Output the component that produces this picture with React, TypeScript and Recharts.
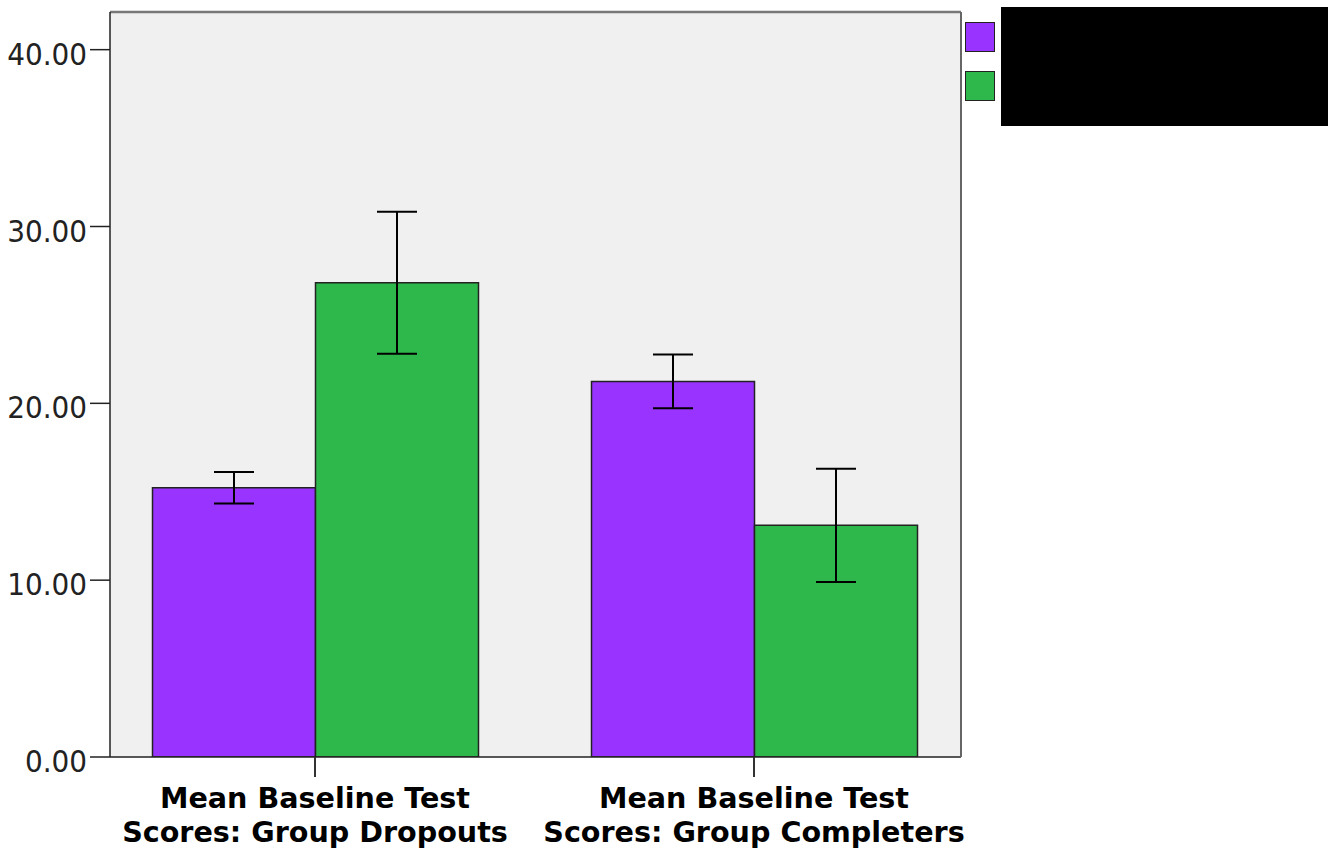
import { BarChart, Bar, XAxis, YAxis, CartesianGrid, ErrorBar, Legend } from 'recharts'

// category labels, each split over two lines
const categoryLines: string[][] = [
  ['Mean Baseline Test', 'Scores: Group Dropouts'],
  ['Mean Baseline Test', 'Scores: Group Completers'],
]

// two groups of means with their 95% CI half-widths
const purpleMeans = [15.23, 21.24]
const purpleErrors = [0.89, 1.52]
const greenMeans = [26.82, 13.1]
const greenErrors = [4.02, 3.2]

const yTicks = [0, 10, 20, 30, 40]

const series = [
  { key: 'purple', err: 'purpleErr', color: '#9933ff' },
  { key: 'green', err: 'greenErr', color: '#2eb84b' },
]

const data = categoryLines.map((lines, i) => ({
  name: lines.join(' '),
  purple: purpleMeans[i],
  purpleErr: purpleErrors[i],
  green: greenMeans[i],
  greenErr: greenErrors[i],
}))

const YTick = ({ x, y, payload }: any) => (
  <text
    x={x}
    y={y + 4}
    dy="0.355em"
    textAnchor="end"
    fill="#222"
    fontSize={31}
    fontFamily="'DejaVu Sans Condensed', 'DejaVu Sans', sans-serif"
  >
    {Number(payload.value).toFixed(2)}
  </text>
)

const XTick = ({ x, y, index }: any) => {
  const lines = categoryLines[index] ?? []
  return (
    <text
      x={x}
      y={y}
      textAnchor="middle"
      fill="#000"
      fontSize={28.6}
      fontWeight="bold"
      fontFamily="'DejaVu Sans', sans-serif"
    >
      {lines.map((l, i) => (
        <tspan key={i} x={x} dy={i === 0 ? 28.5 : 34.5}>
          {l}
        </tspan>
      ))}
    </text>
  )
}

const LegendBox = () => (
  <div style={{ position: 'relative', width: 363, height: 110 }}>
    {series.map((s, i) => (
      <div
        key={s.key}
        style={{
          position: 'absolute',
          left: 0,
          top: i * 49,
          width: 28,
          height: 28,
          background: s.color,
          border: '1.5px solid #222',
        }}
      />
    ))}
    <div
      style={{
        position: 'absolute',
        left: 36,
        top: -15,
        width: 327,
        height: 119,
        background: '#000',
      }}
    />
  </div>
)

export default function App() {
  return (
    <div style={{ position: 'absolute', left: 0, top: 0, width: 1330, height: 851, background: '#fff' }}>
      <BarChart
        width={1330}
        height={851}
        data={data}
        margin={{ top: 11, right: 368, bottom: 0, left: 0 }}
        barGap={0}
        barSize={163}
      >
        <CartesianGrid fill="#f0f0f0" horizontal={false} vertical={false} />
        <XAxis
          dataKey="name"
          height={94}
          padding={{ left: -14.5, right: -12.5 }}
          tick={<XTick />}
          tickSize={20}
          tickMargin={2}
          interval={0}
          axisLine={{ stroke: '#222', strokeWidth: 1.5 }}
          tickLine={{ stroke: '#333', strokeWidth: 2 }}
        />
        {/* frame edges along the top and right of the plot */}
        <XAxis
          xAxisId="top"
          dataKey="name"
          orientation="top"
          height={1}
          tick={false}
          tickLine={false}
          axisLine={{ stroke: '#777', strokeWidth: 2.5 }}
        />
        <YAxis
          width={110}
          domain={[0, 42.13]}
          ticks={yTicks}
          tick={<YTick />}
          tickSize={20}
          tickMargin={3}
          axisLine={{ stroke: '#222', strokeWidth: 1.5 }}
          tickLine={{ stroke: '#222', strokeWidth: 1.5 }}
          allowDataOverflow
        />
        <YAxis
          yAxisId="right"
          orientation="right"
          width={1}
          domain={[0, 42.13]}
          tick={false}
          tickLine={false}
          axisLine={{ stroke: '#666', strokeWidth: 2 }}
        />
        <Legend
          layout="vertical"
          align="center"
          verticalAlign="middle"
          content={() => <LegendBox />}
          wrapperStyle={{ position: 'absolute', left: 965, top: 22, width: 363, height: 110 }}
        />
        {series.map(s => (
          <Bar
            key={s.key}
            dataKey={s.key}
            fill={s.color}
            stroke="#222"
            strokeWidth={1.5}
            isAnimationActive={false}
          >
            <ErrorBar dataKey={s.err} width={20} stroke="#000" strokeWidth={2} direction="y" />
          </Bar>
        ))}
      </BarChart>
    </div>
  )
}
